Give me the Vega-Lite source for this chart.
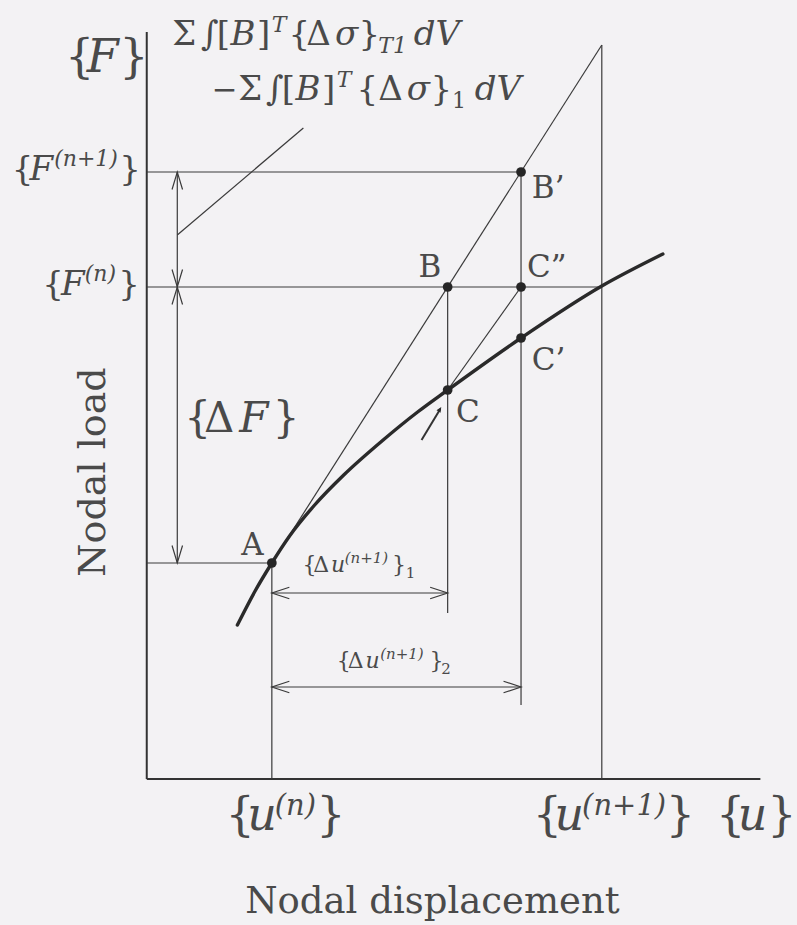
{
  "$schema": "https://vega.github.io/schema/vega-lite/v6.json",
  "width": 797,
  "height": 925,
  "padding": 0,
  "autosize": {"type": "fit", "contains": "padding"},
  "background": "#f3f2f4",
  "config": {"view": {"stroke": null}},
  "datasets": {
    "heavy": [
      {"u1": 0, "F1": 0, "u2": 0, "F2": 7.47},
      {"u1": 0, "F1": 0, "u2": 6.23, "F2": 0},
      {"u1": 2.79, "F1": 3.39, "u2": 2.98, "F2": 3.70}
    ],
    "thin": [
      {"u1": 0, "F1": 6.07, "u2": 3.80, "F2": 6.07},
      {"u1": 0, "F1": 4.92, "u2": 4.62, "F2": 4.92},
      {"u1": 0, "F1": 2.16, "u2": 1.27, "F2": 2.16},
      {"u1": 1.27, "F1": 0, "u2": 1.27, "F2": 2.16},
      {"u1": 4.62, "F1": 0, "u2": 4.62, "F2": 7.34},
      {"u1": 3.055, "F1": 4.92, "u2": 3.055, "F2": 1.66},
      {"u1": 3.80, "F1": 6.07, "u2": 3.80, "F2": 0.74},
      {"u1": 1.27, "F1": 2.16, "u2": 4.62, "F2": 7.34},
      {"u1": 3.055, "F1": 3.89, "u2": 3.80, "F2": 4.92},
      {"u1": 0.31, "F1": 5.44, "u2": 1.59, "F2": 6.51},
      {"u1": 0.31, "F1": 6.07, "u2": 0.31, "F2": 2.16},
      {"u1": 1.27, "F1": 1.86, "u2": 3.055, "F2": 1.86},
      {"u1": 1.27, "F1": 0.92, "u2": 3.80, "F2": 0.92}
    ],
    "curve": [
      {"u": 0.92, "F": 1.54},
      {"u": 1.10, "F": 1.88},
      {"u": 1.27, "F": 2.16},
      {"u": 1.45, "F": 2.43},
      {"u": 1.70, "F": 2.735},
      {"u": 2.00, "F": 3.04},
      {"u": 2.40, "F": 3.39},
      {"u": 2.75, "F": 3.67},
      {"u": 3.055, "F": 3.89},
      {"u": 3.80, "F": 4.41},
      {"u": 4.62, "F": 4.93},
      {"u": 5.24, "F": 5.25}
    ],
    "nodes": [
      {"name": "A", "u": 1.27, "F": 2.16},
      {"name": "B", "u": 3.055, "F": 4.92},
      {"name": "B'", "u": 3.80, "F": 6.07},
      {"name": "C", "u": 3.055, "F": 3.89},
      {"name": "C'", "u": 3.80, "F": 4.41},
      {"name": "C''", "u": 3.80, "F": 4.92}
    ],
    "heads": [
      {"u": 0.31, "F": 6.07, "d": "up"},
      {"u": 0.31, "F": 4.92, "d": "down"},
      {"u": 0.31, "F": 4.92, "d": "up"},
      {"u": 0.31, "F": 2.16, "d": "down"},
      {"u": 1.27, "F": 1.86, "d": "left"},
      {"u": 3.055, "F": 1.86, "d": "right"},
      {"u": 1.27, "F": 0.92, "d": "left"},
      {"u": 3.80, "F": 0.92, "d": "right"}
    ],
    "pointer": [
      {"u": 2.99, "F": 3.72}
    ],
    "upright": [
      {"u": -0.83, "F": 7.07, "t": "{", "k": "L"},
      {"u": -0.28, "F": 7.07, "t": "}", "k": "L"},
      {"u": -1.37, "F": 5.99, "t": "{", "k": "M"},
      {"u": -0.28, "F": 5.99, "t": "}", "k": "M"},
      {"u": -1.06, "F": 4.84, "t": "{", "k": "M"},
      {"u": -0.29, "F": 4.84, "t": "}", "k": "M"},
      {"u": 0.26, "F": 7.34, "t": "Σ", "k": "M"},
      {"u": 0.55, "F": 7.34, "t": "∫", "k": "M"},
      {"u": 0.71, "F": 7.34, "t": "[", "k": "M"},
      {"u": 1.12, "F": 7.34, "t": "]", "k": "M"},
      {"u": 1.44, "F": 7.34, "t": "{", "k": "M"},
      {"u": 1.62, "F": 7.34, "t": "Δ", "k": "M"},
      {"u": 2.15, "F": 7.34, "t": "}", "k": "M"},
      {"u": 0.66, "F": 6.79, "t": "−", "k": "P"},
      {"u": 0.93, "F": 6.79, "t": "Σ", "k": "M"},
      {"u": 1.21, "F": 6.79, "t": "∫", "k": "M"},
      {"u": 1.37, "F": 6.79, "t": "[", "k": "M"},
      {"u": 1.78, "F": 6.79, "t": "]", "k": "M"},
      {"u": 2.13, "F": 6.79, "t": "{", "k": "M"},
      {"u": 2.35, "F": 6.79, "t": "Δ", "k": "M"},
      {"u": 2.88, "F": 6.79, "t": "}", "k": "M"},
      {"u": 3.10, "F": 6.71, "t": "1", "k": "Ms"},
      {"u": 0.96, "F": 2.24, "t": "A", "k": "P"},
      {"u": 2.76, "F": 5.02, "t": "B", "k": "P"},
      {"u": 3.91, "F": 5.81, "t": "B’", "k": "P"},
      {"u": 3.86, "F": 5.02, "t": "C”", "k": "P"},
      {"u": 3.91, "F": 4.09, "t": "C’", "k": "P"},
      {"u": 3.14, "F": 3.57, "t": "C", "k": "P"},
      {"u": 0.38, "F": 3.47, "t": "{", "k": "D"},
      {"u": 0.58, "F": 3.47, "t": "Δ", "k": "D"},
      {"u": 1.28, "F": 3.47, "t": "}", "k": "D"},
      {"u": 1.58, "F": 2.07, "t": "{", "k": "S"},
      {"u": 1.69, "F": 2.07, "t": "Δ", "k": "S"},
      {"u": 2.49, "F": 2.07, "t": "}", "k": "S"},
      {"u": 2.63, "F": 2.01, "t": "1", "k": "Ss"},
      {"u": 1.93, "F": 1.11, "t": "{", "k": "S"},
      {"u": 2.04, "F": 1.11, "t": "Δ", "k": "S"},
      {"u": 2.87, "F": 1.11, "t": "}", "k": "S"},
      {"u": 2.99, "F": 1.05, "t": "2", "k": "Ss"},
      {"u": 0.80, "F": -0.51, "t": "{", "k": "L"},
      {"u": 1.72, "F": -0.51, "t": "}", "k": "L"},
      {"u": 3.92, "F": -0.51, "t": "{", "k": "L"},
      {"u": 5.27, "F": -0.51, "t": "}", "k": "L"},
      {"u": 5.78, "F": -0.51, "t": "{", "k": "L"},
      {"u": 6.30, "F": -0.51, "t": "}", "k": "L"}
    ],
    "italic": [
      {"u": -0.61, "F": 7.07, "t": "F", "k": "L"},
      {"u": -1.19, "F": 5.99, "t": "F", "k": "M"},
      {"u": -0.94, "F": 6.13, "t": "(n+1)", "k": "Ms"},
      {"u": -0.87, "F": 4.84, "t": "F", "k": "M"},
      {"u": -0.63, "F": 4.98, "t": "(n)", "k": "Ms"},
      {"u": 0.85, "F": 7.34, "t": "B", "k": "M"},
      {"u": 1.27, "F": 7.47, "t": "T", "k": "Ms"},
      {"u": 1.91, "F": 7.34, "t": "σ", "k": "M"},
      {"u": 2.35, "F": 7.26, "t": "T1", "k": "Ms"},
      {"u": 2.71, "F": 7.34, "t": "dV", "k": "M"},
      {"u": 1.51, "F": 6.79, "t": "B", "k": "M"},
      {"u": 1.93, "F": 6.92, "t": "T", "k": "Ms"},
      {"u": 2.64, "F": 6.79, "t": "σ", "k": "M"},
      {"u": 3.33, "F": 6.79, "t": "dV", "k": "M"},
      {"u": 0.94, "F": 3.47, "t": "F", "k": "D"},
      {"u": 1.87, "F": 2.07, "t": "u", "k": "S"},
      {"u": 2.01, "F": 2.16, "t": "(n+1)", "k": "Ss"},
      {"u": 2.22, "F": 1.11, "t": "u", "k": "S"},
      {"u": 2.37, "F": 1.20, "t": "(n+1)", "k": "Ss"},
      {"u": 1.02, "F": -0.51, "t": "u", "k": "L"},
      {"u": 1.30, "F": -0.36, "t": "(n)", "k": "Ls"},
      {"u": 4.14, "F": -0.51, "t": "u", "k": "L"},
      {"u": 4.42, "F": -0.36, "t": "(n+1)", "k": "Ls"},
      {"u": 6.00, "F": -0.51, "t": "u", "k": "L"}
    ],
    "titles": [
      {"u": 2.90, "F": -1.34, "t": "Nodal displacement", "dir": "h"},
      {"u": -0.42, "F": 3.07, "t": "Nodal load", "dir": "v"}
    ]
  },
  "layer": [
    {
      "data": {"name": "heavy"},
      "mark": {"type": "rule", "stroke": "#333333", "strokeWidth": 2},
      "encoding": {
        "x": {"field": "u1", "type": "quantitative", "scale": {"domain": [-1.49, 6.48], "nice": false, "zero": false}, "axis": null},
        "y": {"field": "F1", "type": "quantitative", "scale": {"domain": [-1.46, 7.79], "nice": false, "zero": false}, "axis": null},
        "x2": {"field": "u2"},
        "y2": {"field": "F2"}
      }
    },
    {
      "data": {"name": "thin"},
      "mark": {"type": "rule", "stroke": "#3a3a3a", "strokeWidth": 1.2},
      "encoding": {
        "x": {"field": "u1", "type": "quantitative", "scale": {"domain": [-1.49, 6.48], "nice": false, "zero": false}, "axis": null},
        "y": {"field": "F1", "type": "quantitative", "scale": {"domain": [-1.46, 7.79], "nice": false, "zero": false}, "axis": null},
        "x2": {"field": "u2"},
        "y2": {"field": "F2"}
      }
    },
    {
      "data": {"name": "curve"},
      "mark": {"type": "line", "stroke": "#2a2a2a", "strokeWidth": 3.4, "interpolate": "monotone", "strokeCap": "round"},
      "encoding": {
        "x": {"field": "u", "type": "quantitative", "scale": {"domain": [-1.49, 6.48], "nice": false, "zero": false}, "axis": null},
        "y": {"field": "F", "type": "quantitative", "scale": {"domain": [-1.46, 7.79], "nice": false, "zero": false}, "axis": null},
        "order": {"field": "u", "type": "quantitative"}
      }
    },
    {
      "data": {"name": "nodes"},
      "mark": {"type": "circle", "fill": "#262626", "opacity": 1, "size": 95},
      "encoding": {
        "x": {"field": "u", "type": "quantitative", "scale": {"domain": [-1.49, 6.48], "nice": false, "zero": false}, "axis": null},
        "y": {"field": "F", "type": "quantitative", "scale": {"domain": [-1.46, 7.79], "nice": false, "zero": false}, "axis": null}
      }
    },
    {
      "data": {"name": "heads"},
      "mark": {"type": "point", "filled": false, "stroke": "#3a3a3a", "strokeWidth": 1.2, "size": 1225, "opacity": 1},
      "encoding": {
        "x": {"field": "u", "type": "quantitative", "scale": {"domain": [-1.49, 6.48], "nice": false, "zero": false}, "axis": null},
        "y": {"field": "F", "type": "quantitative", "scale": {"domain": [-1.46, 7.79], "nice": false, "zero": false}, "axis": null},
        "shape": {
          "field": "d", "type": "nominal", "legend": null,
          "scale": {
            "domain": ["up", "down", "left", "right"],
            "range": ["M-0.3,1L0,0L0.3,1", "M-0.3,-1L0,0L0.3,-1", "M1,-0.33L0,0L1,0.33", "M-1,-0.33L0,0L-1,0.33"]
          }
        }
      }
    },
    {
      "data": {"name": "pointer"},
      "mark": {"type": "point", "filled": true, "fill": "#2a2a2a", "shape": "M-0.45,1L0,0L0.45,1Z", "angle": 31, "size": 110, "opacity": 1},
      "encoding": {
        "x": {"field": "u", "type": "quantitative", "scale": {"domain": [-1.49, 6.48], "nice": false, "zero": false}, "axis": null},
        "y": {"field": "F", "type": "quantitative", "scale": {"domain": [-1.46, 7.79], "nice": false, "zero": false}, "axis": null}
      }
    },
    {
      "data": {"name": "upright"},
      "mark": {"type": "text", "font": "DejaVu Serif", "align": "left", "baseline": "alphabetic", "fill": "#4a4a4a"},
      "encoding": {
        "x": {"field": "u", "type": "quantitative", "scale": {"domain": [-1.49, 6.48], "nice": false, "zero": false}, "axis": null},
        "y": {"field": "F", "type": "quantitative", "scale": {"domain": [-1.46, 7.79], "nice": false, "zero": false}, "axis": null},
        "text": {"field": "t"},
        "size": {"field": "k", "type": "nominal", "legend": null, "scale": {"type": "ordinal", "domain": ["L", "Ls", "D", "M", "Ms", "P", "S", "Ss"], "range": [46, 29, 42, 34, 22, 31, 22, 15]}}
      }
    },
    {
      "data": {"name": "italic"},
      "mark": {"type": "text", "font": "DejaVu Serif", "fontStyle": "italic", "align": "left", "baseline": "alphabetic", "fill": "#4a4a4a"},
      "encoding": {
        "x": {"field": "u", "type": "quantitative", "scale": {"domain": [-1.49, 6.48], "nice": false, "zero": false}, "axis": null},
        "y": {"field": "F", "type": "quantitative", "scale": {"domain": [-1.46, 7.79], "nice": false, "zero": false}, "axis": null},
        "text": {"field": "t"},
        "size": {"field": "k", "type": "nominal", "legend": null, "scale": {"type": "ordinal", "domain": ["L", "Ls", "D", "M", "Ms", "P", "S", "Ss"], "range": [46, 29, 42, 34, 22, 31, 22, 15]}}
      }
    },
    {
      "data": {"name": "titles"},
      "transform": [{"filter": "datum.dir === 'h'"}],
      "mark": {"type": "text", "font": "DejaVu Serif", "fontSize": 37, "align": "center", "baseline": "alphabetic", "fill": "#4a4a4a"},
      "encoding": {
        "x": {"field": "u", "type": "quantitative", "scale": {"domain": [-1.49, 6.48], "nice": false, "zero": false}, "axis": null},
        "y": {"field": "F", "type": "quantitative", "scale": {"domain": [-1.46, 7.79], "nice": false, "zero": false}, "axis": null},
        "text": {"field": "t"}
      }
    },
    {
      "data": {"name": "titles"},
      "transform": [{"filter": "datum.dir === 'v'"}],
      "mark": {"type": "text", "font": "DejaVu Serif", "fontSize": 38, "angle": 270, "align": "center", "baseline": "alphabetic", "fill": "#4a4a4a"},
      "encoding": {
        "x": {"field": "u", "type": "quantitative", "scale": {"domain": [-1.49, 6.48], "nice": false, "zero": false}, "axis": null},
        "y": {"field": "F", "type": "quantitative", "scale": {"domain": [-1.46, 7.79], "nice": false, "zero": false}, "axis": null},
        "text": {"field": "t"}
      }
    }
  ]
}
